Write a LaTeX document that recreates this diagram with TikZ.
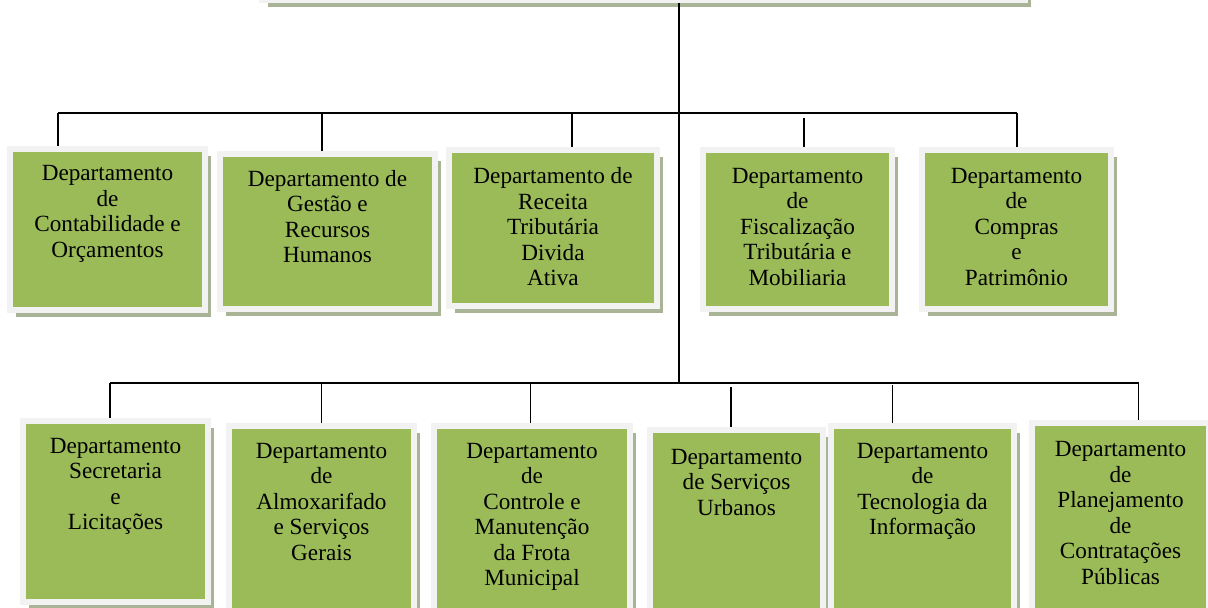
\documentclass[tikz,border=0pt]{standalone}
\usepackage{fontspec}
\setmainfont{Liberation Serif}
\usetikzlibrary{shadows}
\definecolor{deptgreen}{HTML}{9BBB59}
\definecolor{framegray}{HTML}{F2F2F2}
\definecolor{shadowgray}{HTML}{A9B496}
\tikzset{
  dept/.style={fill=deptgreen, draw=framegray, line width=0.15cm, inner sep=0pt,
    drop shadow={shadow xshift=0.15cm, shadow yshift=-0.175cm, fill=shadowgray, opacity=1}},
  depttext/.style={anchor=north, inner sep=0pt, align=center,
    font=\fontsize{16.5}{18.1}\selectfont},
  link/.style={line width=1.1pt}
}
\begin{document}
\begin{tikzpicture}[x=0.025cm,y=-0.025cm]
\useasboundingbox (0,0) rectangle (1208,607);

% cabeça (cortada no topo)
\node[dept, minimum width=19.075cm, minimum height=1.2cm, anchor=south] (top) at (643.5,3) {};

% primeira linha
\node[dept, minimum width=4.875cm, minimum height=4.025cm] (d1) at (107.5,229.5) {};
\node[dept, minimum width=5.375cm, minimum height=3.875cm] (d2) at (327.5,231.5) {};
\node[dept, minimum width=5.2cm, minimum height=3.9cm] (d3) at (553,228) {};
\node[dept, minimum width=4.725cm, minimum height=3.975cm] (d4) at (797.5,229.5) {};
\node[dept, minimum width=4.725cm, minimum height=3.975cm] (d5) at (1016.5,229.5) {};

\node[depttext] (t1) at (107.5,165.5) {Departamento\\de\\Contabilidade e\\Orçamentos};
\node[depttext] (t2) at (327.5,170) {Departamento de\\Gestão e\\Recursos\\Humanos};
\node[depttext] (t3) at (553,167.5) {Departamento de\\Receita\\Tributária\\Divida\\Ativa};
\node[depttext] (t4) at (797.5,168) {Departamento\\de\\Fiscalização\\Tributária e\\Mobiliaria};
\node[depttext] (t5) at (1016.5,168) {Departamento\\de\\Compras\\e\\Patrimônio};

% segunda linha
\node[dept, minimum width=4.625cm, minimum height=4.525cm] (e1) at (115.5,511.5) {};
\node[dept, minimum width=4.625cm, minimum height=5.425cm] (e2) at (321.5,534.5) {};
\node[dept, minimum width=4.875cm, minimum height=5.425cm] (e3) at (532,534.5) {};
\node[dept, minimum width=4.325cm, minimum height=5.325cm] (e4) at (736.5,536.5) {};
\node[dept, minimum width=4.575cm, minimum height=5.425cm] (e5) at (922.5,534.5) {};
\node[dept, minimum width=4.425cm, minimum height=5.5cm] (e6) at (1120.5,533) {};

\node[depttext] (s1) at (115.5,438) {Departamento\\Secretaria\\e\\Licitações};
\node[depttext] (s2) at (321.5,443) {Departamento\\de\\Almoxarifado\\e Serviços\\Gerais};
\node[depttext] (s3) at (532,443) {Departamento\\de\\Controle e\\Manutenção\\da Frota\\Municipal};
\node[depttext] (s4) at (736.5,449) {Departamento\\de Serviços\\Urbanos};
\node[depttext] (s5) at (922.5,443) {Departamento\\de\\Tecnologia da\\Informação};
\node[depttext] (s6) at (1120.5,441.5) {Departamento\\de\\Planejamento\\de\\Contratações\\Públicas};

% barramentos
\coordinate (vb) at (679,383);
\coordinate (a1) at (58,113);
\coordinate (a2) at (322,113);
\coordinate (a3) at (572,113);
\coordinate (a4) at (804,118);
\coordinate (a5) at (1017,113);
\coordinate (b1) at (110,383);
\coordinate (b2) at (321.5,383);
\coordinate (b3) at (530.5,383);
\coordinate (b4) at (731,387);
\coordinate (b5) at (892.5,385);
\coordinate (b6) at (1138.5,383);

\draw[link] (vb |- top.south) -- (vb);
\draw[link] (a1) -- (a5);
\draw[link] (b1) -- (b6);

\draw[link] (a1) -- (a1 |- d1.north);
\draw[link] (a2) -- (a2 |- d2.north);
\draw[link] (a3) -- (a3 |- d3.north);
\draw[link] (a4) -- (a4 |- d4.north);
\draw[link] (a5) -- (a5 |- d5.north);

\draw[link] (b1) -- (b1 |- e1.north);
\draw[link] (b2) -- (b2 |- e2.north);
\draw[link] (b3) -- (b3 |- e3.north);
\draw[link] (b4) -- (b4 |- e4.north);
\draw[link] (b5) -- (b5 |- e5.north);
\draw[link] (b6) -- (b6 |- e6.north);
\end{tikzpicture}
\end{document}
